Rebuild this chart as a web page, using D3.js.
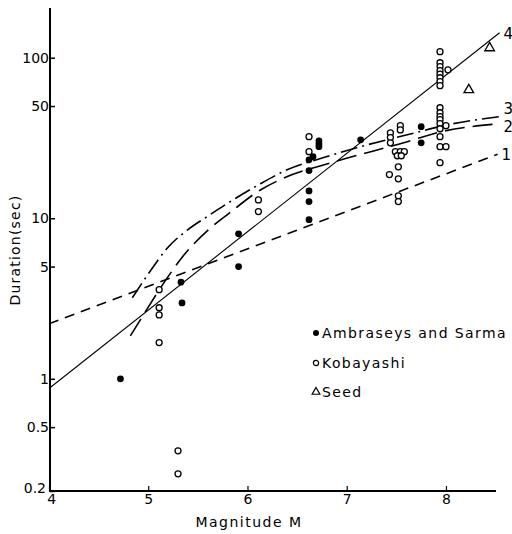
<!DOCTYPE html>
<html><head><meta charset="utf-8">
<script src="https://cdn.jsdelivr.net/npm/d3@7"></script>
<style>body{margin:0;background:#fff}svg{display:block}</style>
</head><body>
<svg id="c" width="512" height="534"></svg>
<script>
// ---- data ----
const yTicks = [0.2, 0.5, 1, 5, 10, 50, 100];
const yTickLabels = ["0.2", "0.5", "1", "5", "10", "50", "100"];
const xTicks = [4, 5, 6, 7, 8];
const xTickLabels = ["4", "5", "6", "7", "8"];

// Ambraseys and Sarma (filled circles)
const ambM = [4.72, 5.33, 5.34, 5.91, 5.91, 6.62, 6.62, 6.62, 6.62, 6.62, 6.66, 6.72, 6.72, 6.72, 7.14, 7.75, 7.75];
const ambD = [1.0, 4.0, 2.97, 5.0, 8.0, 23.1, 19.8, 14.8, 12.7, 9.8, 24.2, 30.3, 29.0, 27.9, 30.8, 37.2, 29.5];

// Kobayashi (open circles)
const kobM = [5.11, 5.11, 5.11, 5.11, 5.30, 5.30, 6.11, 6.11, 6.62, 6.62,
  7.54, 7.54, 7.44, 7.44, 7.44, 7.49, 7.54, 7.58, 7.51, 7.55, 7.52, 7.43, 7.52, 7.52, 7.52,
  7.94, 7.94, 7.94, 7.94, 8.02, 7.94, 7.94, 7.94, 7.94,
  7.94, 7.94, 7.94, 7.94, 7.94, 8.00, 7.94, 7.94, 7.94, 8.00, 7.94];
const kobD = [3.59, 2.77, 2.5, 1.68, 0.356, 0.256, 13.0, 11.0, 32.2, 26.0,
  37.7, 35.5, 34.0, 31.8, 29.5, 26.0, 26.0, 26.0, 24.5, 24.5, 20.9, 18.7, 17.6, 13.8, 12.7,
  109, 93, 88, 83, 84, 79, 75, 71, 67,
  48.8, 45.4, 42.9, 41.1, 38.8, 37.7, 36.1, 32.2, 27.9, 27.9, 22.2];

// Seed (triangles)
const seedM = [8.44, 8.23];
const seedD = [115, 63];

// Curves
const line1M = [4, 8.52];
const line1D = [2.2, 25];
const line4M = [4, 8.54];
const line4D = [0.87, 143];
const line2M = [4.82, 4.97, 5.15, 5.35, 5.60, 5.82, 6.13, 6.33, 6.88, 7.61, 7.91, 8.54];
const line2D = [1.85, 2.61, 3.9, 5.8, 8.4, 10.8, 15.0, 17.4, 22.5, 30.0, 34.1, 38.8];
const line3M = [4.84, 5.0, 5.2, 5.4, 5.6, 5.8, 6.1, 6.38, 6.76, 7.10, 7.61, 8.07, 8.54];
const line3D = [3.2, 4.5, 6.6, 8.5, 10.3, 12.4, 16.0, 19.8, 23.8, 27.5, 33.1, 38.8, 42.9];
const curveNames = ["1", "2", "3", "4"];

const legendNames = ["Ambraseys and Sarma", "Kobayashi", "Seed"];

// ---- drawing ----
const svg = d3.select("#c");
const x = d3.scaleLinear().domain([4, 8.5]).range([49, 495.6]);
const y = d3.scaleLog().domain([0.2, 204]).range([491, 8]);
const font = "DejaVu Sans, sans-serif";

// axes
const yAxis = d3.axisLeft(y).tickValues(yTicks)
  .tickFormat((d, i) => yTickLabels[i]).tickSize(-5).tickPadding(1);
const gy = svg.append("g").attr("transform", "translate(50,0)").call(yAxis);
gy.select(".domain").attr("d", `M0,${y.range()[1]}V${y.range()[0]}`).attr("stroke", "#000").attr("stroke-width", 2);
gy.selectAll(".tick line").attr("stroke", "#000").attr("stroke-width", 1.5);
gy.selectAll(".tick text").attr("font-family", font).attr("font-size", 14).attr("fill", "#000");
gy.selectAll(".tick").filter(d => d === 0.2).select("text").attr("x", -4).attr("dy", "0.1em");

const xAxis = d3.axisBottom(x).tickValues(xTicks)
  .tickFormat((d, i) => xTickLabels[i]).tickSize(-5).tickPadding(3);
const gx = svg.append("g").attr("transform", "translate(0,491)").call(xAxis);
gx.select(".domain").attr("d", `M49,0H496`).attr("stroke", "#000").attr("stroke-width", 2);
gx.selectAll(".tick line").attr("stroke", "#000").attr("stroke-width", 1.2);
gx.selectAll(".tick text").attr("font-family", font).attr("font-size", 14).attr("fill", "#000");
gx.selectAll(".tick").filter(d => d === 4).select("text").attr("dx", "0.15em");

// axis titles
svg.append("text").attr("x", 249).attr("y", 527).attr("text-anchor", "middle")
  .attr("font-family", font).attr("font-size", 14).attr("letter-spacing", 1.5)
  .text("Magnitude  M");
svg.append("text").attr("transform", "translate(20,250) rotate(-90)").attr("text-anchor", "middle")
  .attr("font-family", font).attr("font-size", 14).attr("letter-spacing", 1.2)
  .text("Duration(sec)");

// lines
const toPts = (ms, ds) => ms.map((m, i) => [x(m), y(ds[i])]);
const straight = d3.line();
const smooth = d3.line().curve(d3.curveMonotoneX);

svg.append("path").attr("d", straight(toPts(line1M, line1D))).attr("fill", "none")
  .attr("stroke", "#000").attr("stroke-width", 1.6).attr("stroke-dasharray", "10,7");
svg.append("path").attr("d", straight(toPts(line4M, line4D))).attr("fill", "none")
  .attr("stroke", "#000").attr("stroke-width", 1.1);
svg.append("path").attr("d", smooth(toPts(line2M, line2D))).attr("fill", "none")
  .attr("stroke", "#000").attr("stroke-width", 1.6).attr("stroke-dasharray", "20,8");
svg.append("path").attr("d", smooth(toPts(line3M, line3D))).attr("fill", "none")
  .attr("stroke", "#000").attr("stroke-width", 1.6).attr("stroke-dasharray", "17,5,2,5");

// curve labels
const labelEnds = [
  [line1M[1], line1D[1], 0],
  [line2M[line2M.length - 1], line2D[line2D.length - 1], 3],
  [line3M[line3M.length - 1], line3D[line3D.length - 1], -8],
  [line4M[1], line4D[1], 1]
];
labelEnds.forEach((e, i) => {
  svg.append("text").attr("x", x(e[0]) + 4).attr("y", y(e[1]) + e[2]).attr("dy", "0.36em")
    .attr("font-family", font).attr("font-size", 15).text(curveNames[i]);
});

// points
svg.append("g").selectAll("circle").data(kobM.map((m, i) => [m, kobD[i]])).join("circle")
  .attr("cx", d => x(d[0])).attr("cy", d => y(d[1])).attr("r", 3)
  .attr("fill", "#fff").attr("stroke", "#000").attr("stroke-width", 1.3);
svg.append("g").selectAll("circle").data(ambM.map((m, i) => [m, ambD[i]])).join("circle")
  .attr("cx", d => x(d[0])).attr("cy", d => y(d[1])).attr("r", 3.4).attr("fill", "#000");
const tri = d3.symbol().type(d3.symbolTriangle).size(40);
svg.append("g").selectAll("path").data(seedM.map((m, i) => [m, seedD[i]])).join("path")
  .attr("d", tri).attr("transform", d => `translate(${x(d[0])},${y(d[1])})`)
  .attr("fill", "#fff").attr("stroke", "#000").attr("stroke-width", 1.3);

// legend
const lg = svg.append("g").attr("transform", "translate(316,0)");
const rows = [333, 363, 392];
lg.append("circle").attr("cx", 0).attr("cy", rows[0]).attr("r", 3).attr("fill", "#000");
lg.append("circle").attr("cx", 0).attr("cy", rows[1]).attr("r", 2.6).attr("fill", "#fff").attr("stroke", "#000").attr("stroke-width", 1.2);
lg.append("path").attr("d", d3.symbol().type(d3.symbolTriangle).size(26)).attr("transform", `translate(0,${rows[2]})`)
  .attr("fill", "#fff").attr("stroke", "#000").attr("stroke-width", 1.2);
legendNames.forEach((n, i) => {
  lg.append("text").attr("x", 6).attr("y", rows[i]).attr("dy", "0.36em")
    .attr("font-family", font).attr("font-size", 14).attr("letter-spacing", 1.4).text(n);
});
</script>
</body></html>
